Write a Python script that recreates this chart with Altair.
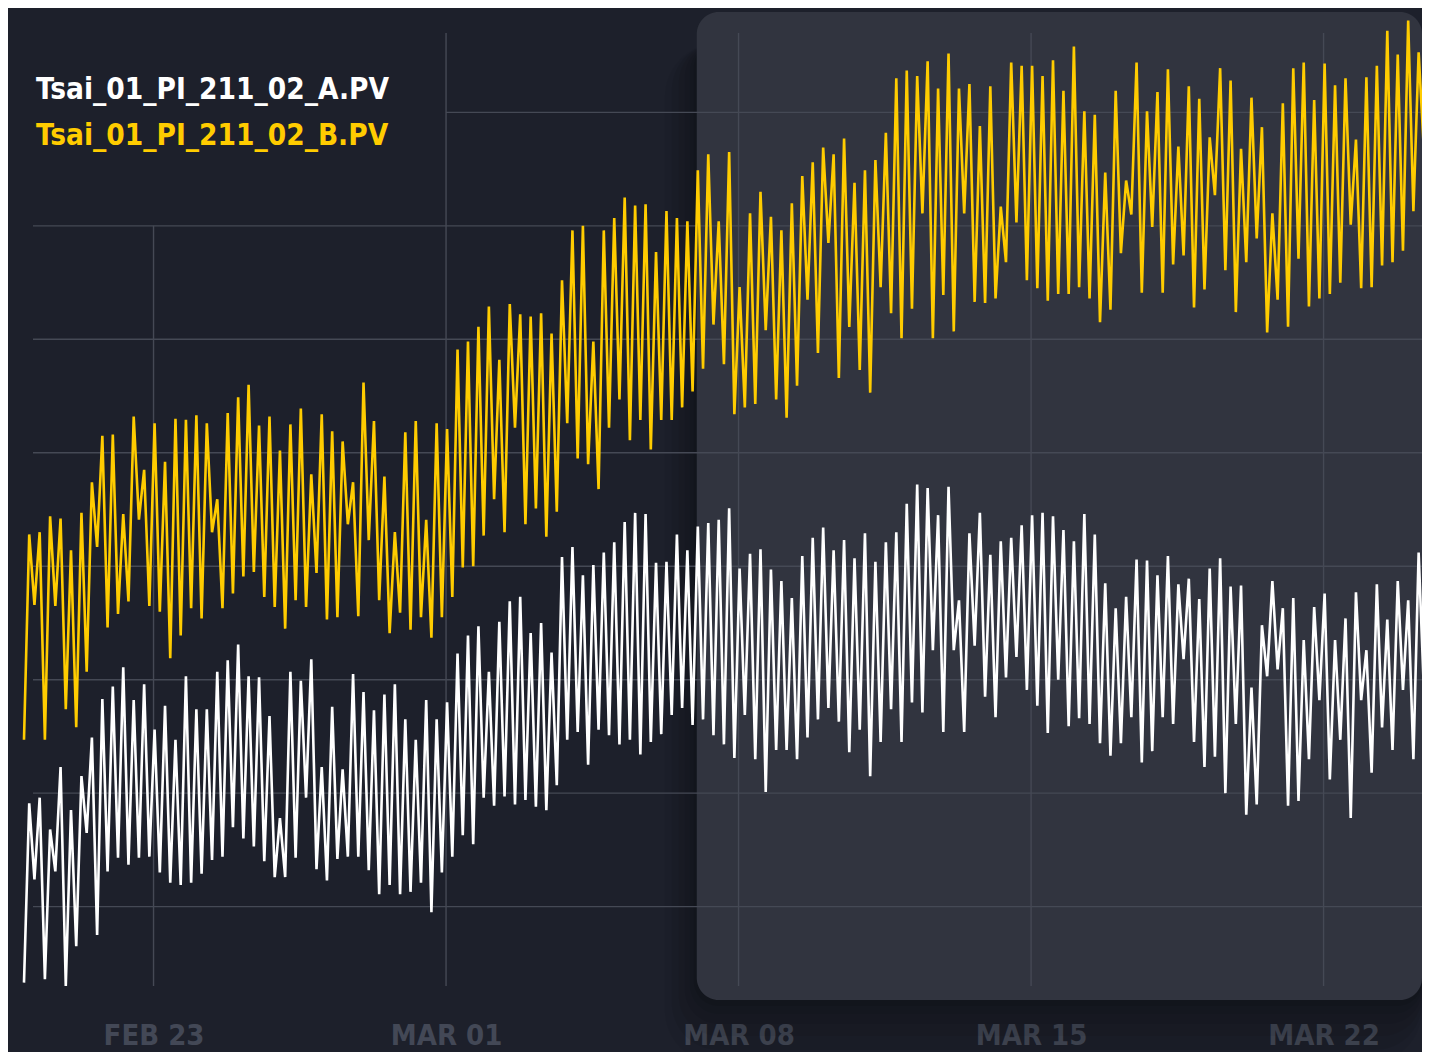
import altair as alt
import pandas as pd

# ---------------- data ----------------
SERIES = ["Tsai_01_PI_211_02_A.PV", "Tsai_01_PI_211_02_B.PV"]
SERIES_COLORS = ["#ffffff", "#ffcc00"]

FIRST_SAMPLE = "2024-02-19T21:36:00Z"
SAMPLE_STEP = "3h"

# Tsai_01_PI_211_02_A.PV (white)
a_values = [
    3.3, 19.1, 12.4, 19.6, 3.6, 16.8, 13.1, 22.3, 3.0, 18.5,
    6.5, 21.5, 16.5, 24.9, 7.5, 28.3, 13.1, 29.4, 14.3, 31.1,
    13.7, 28.2, 14.3, 29.6, 14.4, 25.6, 13.0, 27.7, 12.1, 24.7,
    11.9, 30.3, 12.1, 27.4, 12.9, 27.4, 14.1, 30.7, 14.4, 31.7,
    17.0, 33.1, 16.0, 30.3, 15.3, 30.2, 14.0, 26.8, 12.6, 17.8,
    12.6, 30.7, 14.3, 29.9, 19.6, 31.8, 13.3, 22.3, 12.3, 27.6,
    14.2, 22.1, 14.4, 30.5, 14.4, 28.9, 13.2, 27.3, 11.1, 28.7,
    11.9, 29.6, 11.1, 26.5, 11.3, 24.7, 12.1, 28.2, 9.5, 26.5,
    13.0, 28.0, 14.4, 32.3, 16.3, 33.9, 15.5, 34.7, 19.6, 30.7,
    18.9, 35.1, 19.7, 36.9, 19.0, 37.3, 19.4, 34.1, 18.8, 35.0,
    18.5, 32.4, 20.7, 40.8, 24.7, 41.7, 25.4, 39.2, 22.5, 40.1,
    25.6, 41.2, 25.1, 42.1, 24.3, 43.9, 24.7, 44.7, 23.4, 44.6,
    24.5, 40.3, 25.2, 40.4, 26.9, 42.8, 27.5, 41.4, 26.0, 43.5,
    26.5, 43.8, 25.1, 44.1, 24.3, 45.1, 23.1, 39.8, 26.9, 41.1,
    23.0, 41.5, 20.1, 39.7, 23.8, 38.7, 23.8, 37.2, 23.0, 40.9,
    24.9, 42.5, 26.5, 43.4, 27.5, 41.4, 26.3, 42.3, 23.6, 40.7,
    25.6, 42.9, 21.5, 40.4, 24.5, 42.1, 27.4, 43.0, 24.5, 45.5,
    28.0, 47.2, 27.1, 46.9, 32.6, 44.5, 25.4, 47.0, 32.6, 37.0,
    25.4, 42.9, 33.0, 44.7, 28.5, 41.0, 26.7, 42.2, 30.2, 42.5,
    32.0, 43.6, 29.1, 44.5, 27.7, 44.7, 25.3, 44.4, 30.0, 43.2,
    25.9, 42.2, 26.6, 44.6, 26.1, 42.8, 24.4, 38.5, 23.3, 36.3,
    24.4, 37.3, 26.7, 40.6, 22.7, 40.5, 23.7, 39.2, 26.7, 40.9,
    26.1, 38.4, 31.8, 38.9, 24.5, 37.1, 22.3, 39.8, 23.2, 40.7,
    20.0, 38.2, 26.1, 38.3, 18.1, 29.3, 19.0, 34.8, 30.3, 38.7,
    30.9, 36.3, 18.9, 37.2, 19.3, 33.5, 23.0, 36.4, 28.2, 37.6,
    21.2, 33.5, 24.7, 35.4, 17.8, 37.7, 28.2, 32.6, 21.8, 38.4,
    25.8, 35.3, 23.8, 38.7, 29.1, 37.0, 23.0, 41.2, 29.1, 40.6,
]

# Tsai_01_PI_211_02_B.PV (yellow)
b_values = [
    24.7, 42.8, 36.6, 43.0, 24.7, 44.4, 36.5, 44.2, 27.4, 41.4,
    25.8, 44.7, 30.7, 47.4, 41.7, 51.5, 34.6, 51.6, 35.8, 44.6,
    36.9, 53.2, 44.1, 48.5, 36.5, 52.6, 36.0, 49.2, 31.9, 53.0,
    33.9, 52.9, 36.3, 53.3, 35.4, 52.6, 43.0, 45.9, 36.3, 53.5,
    37.6, 54.9, 39.1, 56.0, 39.5, 52.4, 37.3, 53.2, 36.4, 50.2,
    34.5, 52.5, 37.0, 53.9, 36.4, 48.1, 39.4, 53.4, 35.3, 51.9,
    35.5, 51.0, 43.7, 47.4, 35.6, 56.2, 42.3, 52.8, 37.0, 47.9,
    34.1, 43.0, 35.9, 51.8, 34.4, 52.8, 35.5, 44.1, 33.7, 52.6,
    35.5, 52.1, 37.3, 59.1, 39.9, 59.8, 40.0, 61.1, 42.7, 62.9,
    45.9, 58.2, 43.0, 63.1, 52.2, 62.2, 43.7, 62.0, 45.1, 62.3,
    42.6, 60.5, 44.8, 65.2, 52.6, 69.6, 49.5, 70.0, 49.0, 59.8,
    46.8, 69.6, 52.2, 70.7, 54.7, 72.5, 51.1, 71.8, 52.9, 71.9,
    50.3, 67.7, 52.9, 71.3, 52.9, 70.7, 54.0, 70.4, 55.4, 74.9,
    57.4, 76.3, 61.3, 70.4, 57.8, 76.5, 53.4, 64.6, 54.0, 71.1,
    54.3, 73.0, 60.8, 70.8, 54.7, 69.6, 53.1, 72.0, 55.9, 74.4,
    63.5, 75.6, 58.8, 76.9, 68.5, 76.3, 56.6, 77.7, 61.1, 73.8,
    57.3, 74.9, 55.3, 75.8, 64.6, 78.2, 62.3, 83.0, 60.1, 83.7,
    62.7, 83.2, 71.1, 84.5, 60.1, 82.1, 63.9, 85.2, 60.7, 82.1,
    71.1, 82.5, 63.3, 78.8, 63.2, 82.3, 63.6, 71.7, 66.8, 84.4,
    70.3, 84.1, 65.2, 84.1, 64.5, 83.2, 63.4, 84.6, 64.0, 81.9,
    64.0, 85.8, 64.6, 80.1, 63.6, 79.8, 61.5, 74.7, 62.6, 81.9,
    67.6, 74.0, 71.0, 84.4, 64.1, 80.1, 69.9, 81.8, 64.1, 83.8,
    66.6, 77.0, 67.4, 82.3, 62.8, 81.2, 64.4, 77.8, 72.7, 83.9,
    66.1, 82.8, 62.4, 76.8, 66.8, 81.3, 68.9, 78.7, 60.6, 71.1,
    63.5, 80.8, 61.1, 83.9, 67.1, 84.4, 62.9, 81.1, 63.6, 84.3,
    64.0, 82.4, 65.0, 83.0, 70.1, 77.6, 64.5, 83.1, 64.6, 84.1,
    66.5, 87.2, 66.8, 85.1, 67.8, 88.1, 71.3, 85.3, 76.7, 84.6,
]

tick_dates = ["2024-02-23", "2024-03-01", "2024-03-08", "2024-03-15", "2024-03-22"]
grid_levels = [10, 20, 30, 40, 50, 60, 70, 80]
grid_level_starts = ["2024-02-20T02:46:00Z"] * 7 + ["2024-03-01"]
grid_date_tops = [70, 87, 87, 87, 87]
x_domain = ["2024-02-19T21:36:00Z", "2024-03-24T08:32:00Z"]
y_domain = [3, 87]
highlight_from = "2024-03-07"

# ---------------- styling ----------------
BG = "#1d202b"
PANEL = "#31343f"
GRID = "#454955"
LABEL = "#434856"
FONT = "DejaVu Sans Condensed, Roboto, sans-serif"


def ms(s):
    ts = pd.Timestamp(s)
    if ts.tzinfo is None:
        ts = ts.tz_localize("UTC")
    return int(ts.timestamp() * 1000)


times = pd.date_range(start=pd.Timestamp(FIRST_SAMPLE), periods=len(a_values), freq=SAMPLE_STEP)
t_ms = [int(t.timestamp() * 1000) for t in times]

rows = []
for name, vals in zip(SERIES, [a_values, b_values]):
    for t, v in zip(t_ms, vals):
        rows.append({"t": t, "v": v, "series": name})
df = pd.DataFrame(rows)

x_end = ms(x_domain[1])
hgrid = pd.DataFrame({
    "level": grid_levels,
    "xs": [ms(s) for s in grid_level_starts],
    "xe": [x_end] * len(grid_levels),
})
vgrid = pd.DataFrame({
    "t": [ms(d) for d in tick_dates],
    "top": grid_date_tops,
    "bot": [y_domain[0]] * len(tick_dates),
})
hl = pd.DataFrame({"a": [ms(highlight_from)], "b": [x_end]})

xs = alt.Scale(type="utc", domain=[ms(x_domain[0]), x_end])
ys = alt.Scale(domain=y_domain, nice=False, zero=False)
cs = alt.Scale(domain=SERIES, range=SERIES_COLORS)

x_axis = alt.Axis(
    title=None,
    values=[ms(d) for d in tick_dates],
    labelExpr="upper(utcFormat(datum.value, '%b %d'))",
    labelFont=FONT,
    labelFontSize=29,
    labelFontWeight="bold",
    labelColor=LABEL,
    labelBaseline="alphabetic",
    labelPadding=58,
    ticks=False,
    tickSize=0,
    domain=False,
    grid=False,
    labelOverlap=False,
    labelFlush=False,
)

layers = []

# soft shadow under the highlight panel
for k, op in [(6, 0.06), (14, 0.06), (24, 0.06), (36, 0.05), (50, 0.05), (64, 0.04)]:
    layers.append(
        alt.Chart(hl).mark_rect(
            color="#000000", opacity=op, cornerRadius=22 + k * 0.5,
            xOffset=-k * 0.5,
        ).encode(
            x=alt.X("a:T", scale=xs, axis=x_axis),
            x2="b:T",
            y=alt.value(10),
            y2=alt.value(967 + k),
        )
    )

# highlight panel
layers.append(
    alt.Chart(hl).mark_rect(color=PANEL, cornerRadius=22).encode(
        x=alt.X("a:T", scale=xs, axis=x_axis),
        x2="b:T",
        y=alt.value(-21),
        y2=alt.value(967),
    )
)

# grid lines
layers.append(
    alt.Chart(hgrid).mark_rule(color=GRID, strokeWidth=1.4).encode(
        x=alt.X("xs:T", scale=xs, axis=x_axis),
        x2="xe:T",
        y=alt.Y("level:Q", scale=ys, axis=None),
    )
)
layers.append(
    alt.Chart(vgrid).mark_rule(color=GRID, strokeWidth=1.4).encode(
        x=alt.X("t:T", scale=xs, axis=x_axis),
        y=alt.Y("top:Q", scale=ys, axis=None),
        y2="bot:Q",
    )
)

# the two series
layers.append(
    alt.Chart(df).mark_line(strokeWidth=2.6).encode(
        x=alt.X("t:T", scale=xs, axis=x_axis),
        y=alt.Y("v:Q", scale=ys, axis=None),
        color=alt.Color("series:N", scale=cs, legend=None),
    )
)

# legend as text
for i, name in enumerate(SERIES):
    layers.append(
        alt.Chart(pd.DataFrame({"series": [name]})).mark_text(
            align="left", baseline="alphabetic", font=FONT,
            fontSize=29.5, fontWeight="bold",
        ).encode(
            text="series:N",
            color=alt.Color("series:N", scale=cs, legend=None),
            x=alt.value(12),
            y=alt.value(66 + 46 * i),
        )
    )

chart = alt.layer(*layers).properties(
    width=1398,
    height=953,
    padding={"left": 16, "top": 25, "right": 0, "bottom": 66},
    autosize=alt.AutoSizeParams(type="none"),
    background=BG,
).configure_view(stroke=None)

chart.save("out.html", embed_options={"renderer": "svg", "actions": False})
